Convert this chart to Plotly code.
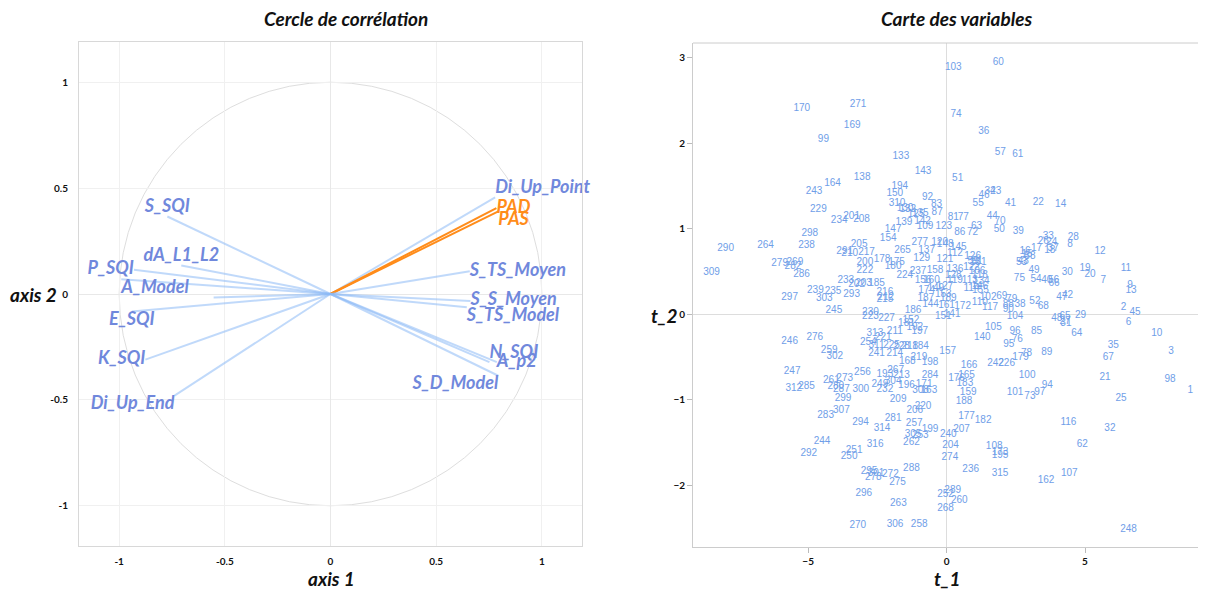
import plotly.graph_objects as go

W, H = 1206, 591

# ---------------- Left panel : correlation circle data ----------------
var_names = ["Di_Up_Point", "PAD", "PAS", "S_SQI", "dA_L1_L2", "P_SQI", "A_Model",
             "E_SQI", "K_SQI", "Di_Up_End", "S_TS_Moyen", "S_S_Moyen", "S_TS_Model",
             "N_SQI", "A_p2", "S_D_Model"]
axis1_load = [0.779, 0.785, 0.794, -0.772, -0.706, -0.930, -0.990,
              -0.940, -0.876, -0.738, 0.659, 0.662, 0.645,
              0.752, 0.787, 0.794]
axis2_load = [0.456, 0.406, 0.390, 0.366, 0.135, 0.115, 0.070,
              -0.083, -0.310, -0.480, 0.107, -0.033, -0.063,
              -0.322, -0.322, -0.386]
var_group = ["x", "y", "y", "x", "x", "x", "x", "x", "x", "x", "x", "x", "x", "x", "x", "x"]
extra_load_1 = [-0.553]
extra_load_2 = [-0.016]

# ---------------- Right panel : individuals map data ----------------
ids = [170, 271, 169, 99, 133, 138, 164, 243, 194, 150, 310, 229, 143, 103, 60, 74, 36, 57, 61, 51,
       34, 23, 46, 92, 83, 55, 41, 22, 14, 290, 309, 264, 298, 238, 279, 269, 282, 286, 297, 239,
       235, 303, 245, 246, 276, 259, 302, 247, 312, 285, 283, 261, 273, 307, 299, 300, 287, 280, 256, 294,
       314, 281, 257, 209, 206, 220, 232, 249, 304, 193, 267, 213, 196, 171, 308, 163, 284, 168, 219, 198,
       157, 254, 221, 313, 311, 241, 225, 214, 228, 218, 184, 211, 197, 140, 105, 95, 76, 96, 166, 242,
       226, 179, 176, 165, 183, 159, 188, 177, 182, 207, 240, 101, 100, 305, 199, 85, 64, 10, 35, 3,
       67, 89, 78, 21, 98, 1, 94, 97, 73, 25, 116, 32, 33, 28, 24, 26, 8, 17, 18, 37,
       12, 16, 15, 58, 43, 53, 19, 11, 30, 20, 7, 9, 13, 49, 54, 40, 56, 66, 75, 42,
       47, 52, 68, 29, 2, 45, 6, 48, 65, 31, 27, 87, 130, 132, 125, 135, 234, 201, 208, 139,
       142, 109, 123, 81, 77, 44, 70, 63, 50, 39, 86, 72, 147, 154, 205, 291, 210, 217, 178, 175,
       180, 200, 222, 265, 277, 137, 120, 148, 145, 112, 126, 129, 121, 224, 237, 158, 136, 131, 59, 122,
       128, 119, 113, 156, 160, 174, 149, 127, 153, 187, 144, 189, 161, 172, 114, 151, 141, 186, 152, 181,
       192, 227, 230, 223, 216, 215, 212, 185, 233, 202, 203, 293, 69, 79, 38, 90, 104, 88, 110, 117,
       102, 106, 118, 134, 146, 155, 91, 244, 292, 251, 250, 316, 262, 288, 295, 278, 301, 272, 275, 296,
       263, 270, 306, 258, 204, 274, 108, 173, 195, 62, 236, 315, 162, 107, 289, 252, 260, 268, 248, 253]
t1 = [-5.23, -3.20, -3.41, -4.45, -1.65, -3.05, -4.12, -4.79, -1.69, -1.87, -1.79, -4.63, -0.85, 0.24, 1.87, 0.34, 1.34, 1.94, 2.57, 0.40,
      1.57, 1.78, 1.35, -0.69, -0.36, 1.14, 2.31, 3.31, 4.12, -7.98, -8.49, -6.54, -4.94, -5.06, -6.03, -5.48, -5.55, -5.24, -5.67, -4.74,
      -4.10, -4.42, -4.07, -5.67, -4.76, -4.24, -4.04, -5.58, -5.52, -5.06, -4.37, -4.16, -3.68, -3.80, -3.74, -3.10, -3.80, -4.00, -3.04, -3.11,
      -2.33, -1.93, -1.17, -1.75, -1.15, -0.85, -2.23, -2.41, -1.93, -2.23, -1.84, -1.63, -1.45, -0.81, -0.94, -0.64, -0.60, -1.42, -1.00, -0.60,
      0.04, -2.83, -2.29, -2.59, -2.53, -2.53, -1.99, -1.87, -1.63, -1.33, -0.94, -1.87, -0.97, 1.29, 1.69, 2.25, 2.55, 2.47, 0.81, 1.77,
      2.17, 2.67, 0.36, 0.72, 0.66, 0.78, 0.63, 0.72, 1.32, 0.54, 0.06, 2.47, 2.91, -1.21, -0.60, 3.25, 4.70, 7.59, 6.02, 8.11,
      5.84, 3.62, 2.89, 5.72, 8.07, 8.80, 3.64, 3.37, 3.01, 6.30, 4.40, 5.90, 3.67, 4.58, 3.80, 3.49, 4.46, 3.25, 3.73, 3.85,
      5.54, 2.83, 2.90, 3.01, 2.77, 2.71, 5.00, 6.48, 4.36, 5.18, 5.66, 6.63, 6.66, 3.16, 3.23, 3.62, 3.86, 3.88, 2.63, 4.37,
      4.16, 3.19, 3.49, 4.84, 6.39, 6.81, 6.57, 3.98, 4.28, 4.31, 4.28, -0.34, -1.50, -1.40, -1.10, -0.95, -3.88, -3.43, -3.07, -1.54,
      -0.87, -0.78, -0.10, 0.24, 0.60, 1.65, 1.93, 1.08, 1.90, 2.59, 0.48, 0.94, -1.93, -2.11, -3.16, -3.68, -3.50, -2.89, -2.33, -1.81,
      -1.93, -2.95, -2.95, -1.59, -0.97, -0.72, -0.25, -0.05, 0.42, 0.30, 0.94, -0.90, -0.06, -1.51, -1.03, -0.42, 0.30, 1.14, 0.96, 0.90,
      0.24, 0.30, 0.84, -0.85, -0.55, -0.72, -0.39, -0.06, -0.12, -0.75, -0.58, 0.06, 0.00, 0.58, 0.90, -0.12, 0.20, -1.21, -1.29, -1.45,
      -1.15, -2.17, -2.75, -2.75, -2.23, -2.23, -2.20, -2.53, -3.64, -3.25, -3.00, -3.43, 1.99, 2.35, 2.65, 2.23, 2.47, 2.23, 1.20, 1.57,
      1.50, 1.10, 1.20, 1.25, 1.20, 1.22, 1.10, -4.50, -4.98, -3.34, -3.52, -2.58, -1.27, -1.27, -2.80, -2.65, -2.55, -2.03, -1.77, -2.99,
      -1.74, -3.21, -1.86, -0.99, 0.14, 0.12, 1.72, 1.93, 1.93, 4.90, 0.87, 1.93, 3.59, 4.43, 0.22, -0.04, 0.46, -0.04, 6.57, -0.95]
t2 = [2.40, 2.45, 2.21, 2.04, 1.84, 1.60, 1.53, 1.43, 1.49, 1.41, 1.29, 1.23, 1.67, 2.88, 2.94, 2.33, 2.13, 1.89, 1.87, 1.59,
      1.44, 1.44, 1.39, 1.36, 1.28, 1.30, 1.29, 1.31, 1.28, 0.77, 0.49, 0.80, 0.94, 0.80, 0.59, 0.60, 0.56, 0.47, 0.19, 0.28,
      0.27, 0.18, 0.04, -0.32, -0.27, -0.42, -0.49, -0.67, -0.87, -0.85, -1.18, -0.77, -0.75, -1.12, -0.98, -0.88, -0.88, -0.85, -0.68, -1.27,
      -1.34, -1.22, -1.28, -1.00, -1.13, -1.08, -0.88, -0.82, -0.79, -0.70, -0.66, -0.72, -0.83, -0.82, -0.89, -0.89, -0.71, -0.55, -0.51, -0.56,
      -0.44, -0.33, -0.27, -0.23, -0.36, -0.46, -0.36, -0.46, -0.38, -0.38, -0.38, -0.20, -0.20, -0.27, -0.16, -0.35, -0.30, -0.20, -0.60, -0.58,
      -0.58, -0.51, -0.75, -0.72, -0.81, -0.91, -1.02, -1.20, -1.24, -1.35, -1.41, -0.92, -0.71, -1.41, -1.35, -0.20, -0.23, -0.23, -0.36, -0.43,
      -0.50, -0.45, -0.46, -0.74, -0.76, -0.89, -0.83, -0.91, -0.96, -0.98, -1.27, -1.34, 0.91, 0.90, 0.84, 0.85, 0.82, 0.77, 0.74, 0.77,
      0.73, 0.73, 0.70, 0.67, 0.62, 0.60, 0.53, 0.53, 0.49, 0.46, 0.39, 0.34, 0.28, 0.51, 0.41, 0.39, 0.39, 0.36, 0.42, 0.22,
      0.19, 0.15, 0.09, -0.01, 0.08, 0.02, -0.10, -0.05, -0.03, -0.11, -0.08, 1.19, 1.24, 1.22, 1.16, 1.18, 1.10, 1.14, 1.11, 1.07,
      1.08, 1.02, 1.02, 1.13, 1.13, 1.14, 1.08, 1.02, 0.99, 0.97, 0.96, 0.95, 0.99, 0.88, 0.82, 0.73, 0.71, 0.72, 0.64, 0.60,
      0.56, 0.60, 0.51, 0.75, 0.84, 0.75, 0.84, 0.82, 0.78, 0.71, 0.67, 0.65, 0.64, 0.45, 0.50, 0.51, 0.52, 0.60, 0.62, 0.55,
      0.45, 0.39, 0.39, 0.40, 0.40, 0.28, 0.30, 0.32, 0.23, 0.18, 0.11, 0.18, 0.10, 0.09, 0.30, -0.03, 0.00, 0.04, -0.07, -0.11,
      -0.15, -0.05, 0.02, -0.03, 0.26, 0.17, 0.20, 0.36, 0.40, 0.35, 0.36, 0.23, 0.21, 0.17, 0.11, 0.05, -0.03, 0.11, 0.14, 0.08,
      0.19, 0.50, 0.45, 0.38, 0.33, 0.28, 0.62, -1.49, -1.63, -1.59, -1.66, -1.52, -1.50, -1.80, -1.84, -1.91, -1.86, -1.87, -1.97, -2.09,
      -2.21, -2.47, -2.46, -2.46, -1.53, -1.67, -1.55, -1.61, -1.65, -1.52, -1.81, -1.86, -1.94, -1.86, -2.06, -2.11, -2.18, -2.27, -2.51, -1.42]

left_ticks = [-1, -0.5, 0, 0.5, 1]
left_ticktext = ["-1", "-0.5", "0", "0.5", "1"]
right_xticks = [-5, 0, 5]
right_yticks = [-2, -1, 0, 1, 2, 3]

# ---------------- styles ----------------
COND = "Lato, Roboto, sans-serif"
BLUE_LINE = "rgba(140,185,245,0.55)"
BLUE_TXT = "#7088dc"
ORANGE = "#ff8c1a"
PT_TXT = "#6f9ee8"

label_pos = ["top right", "middle right", "bottom right", "top center", "top center",
             "middle left", "bottom right", "bottom center", "middle left", "bottom left",
             "middle right", "middle right", "bottom right", "top right", "middle right",
             "bottom left"]

fig = go.Figure()

for a1, a2 in zip(extra_load_1, extra_load_2):
    fig.add_trace(go.Scatter(x=[0, a1], y=[0, a2], mode="lines",
                             line=dict(color=BLUE_LINE, width=2),
                             hoverinfo="skip", showlegend=False, xaxis="x", yaxis="y"))

for name, a1, a2, g in zip(var_names, axis1_load, axis2_load, var_group):
    fig.add_trace(go.Scatter(x=[0, a1], y=[0, a2], mode="lines",
                             line=dict(color=ORANGE if g == "y" else BLUE_LINE, width=2),
                             name=name, hoverinfo="skip", showlegend=False,
                             xaxis="x", yaxis="y"))

fig.add_trace(go.Scatter(
    x=axis1_load, y=axis2_load, mode="text", text=var_names,
    textposition=label_pos, cliponaxis=False,
    textfont=dict(family=COND, size=18, weight="bold", style="italic",
                  color=[ORANGE if g == "y" else BLUE_TXT for g in var_group]),
    hoverinfo="skip", showlegend=False, xaxis="x", yaxis="y"))

fig.add_trace(go.Scatter(
    x=t1, y=t2, mode="text", text=[str(i) for i in ids],
    textfont=dict(family="Liberation Sans, Arial, sans-serif", size=10, color=PT_TXT),
    hoverinfo="skip", showlegend=False, xaxis="x2", yaxis="y2"))

fig.add_shape(type="circle", xref="x", yref="y", x0=-1, y0=-1, x1=1, y1=1,
              line=dict(color="#dedede", width=1), layer="below")

# page body has an 8px margin: positions below are screen pixels
OFF = 8


def px(x):
    return (x - OFF) / W


def py(y):
    return 1 - (y - OFF) / H


L_dom_x = [px(79), px(582)]
L_dom_y = [py(546), py(42)]
R_dom_x = [px(693), px(1206)]
R_dom_y = [py(547), py(43)]

tickfont = dict(family=COND, size=10, color="#111111", weight="bold")

fig.update_layout(
    width=W, height=H, margin=dict(l=0, r=0, t=0, b=0),
    paper_bgcolor="white", plot_bgcolor="white",
    showlegend=False,
    xaxis=dict(domain=L_dom_x, range=[-1.19, 1.19], tickvals=left_ticks,
               ticktext=left_ticktext,
               showgrid=True, gridcolor="#f0f0f0", gridwidth=1,
               zeroline=True, zerolinecolor="#e8e8e8", zerolinewidth=1,
               showline=True, linecolor="#d8d8d8", linewidth=1, mirror=True,
               ticks="", tickfont=tickfont, ticklabelstandoff=6, anchor="y"),
    yaxis=dict(domain=L_dom_y, range=[-1.19, 1.19], tickvals=left_ticks,
               ticktext=left_ticktext,
               showgrid=True, gridcolor="#f0f0f0", gridwidth=1,
               zeroline=True, zerolinecolor="#e8e8e8", zerolinewidth=1,
               showline=True, linecolor="#d8d8d8", linewidth=1, mirror=True,
               ticks="", tickfont=tickfont, ticklabelstandoff=8, anchor="x"),
    xaxis2=dict(domain=R_dom_x, range=[-9.16, 9.37], tickvals=right_xticks,
                showgrid=False, zeroline=True, zerolinecolor="#dddddd", zerolinewidth=1,
                showline=True, linecolor="#cccccc", linewidth=1,
                ticks="outside", ticklen=5, tickcolor="#bbbbbb",
                tickfont=tickfont, anchor="y2"),
    yaxis2=dict(domain=R_dom_y, range=[-2.72, 3.17], tickvals=right_yticks,
                showgrid=False, zeroline=True, zerolinecolor="#dddddd", zerolinewidth=1,
                showline=True, linecolor="#cccccc", linewidth=1,
                ticks="outside", ticklen=5, tickcolor="#bbbbbb",
                tickfont=tickfont, anchor="x2"),
)

fig.add_shape(type="line", xref="paper", yref="paper",
              x0=R_dom_x[0], x1=R_dom_x[1], y0=R_dom_y[1], y1=R_dom_y[1],
              line=dict(color="#cccccc", width=1))

title_font = dict(family=COND, size=19, color="#111111", weight="bold", style="italic")
axis_font = dict(family=COND, size=19, color="#111111", weight="bold", style="italic")

annots = [
    dict(text="Cercle de corrélation", x=px(346), y=py(18), font=title_font),
    dict(text="Carte des variables", x=px(956), y=py(19), font=title_font),
    dict(text="axis 1", x=px(331), y=py(578), font=axis_font),
    dict(text="axis 2", x=px(33), y=py(294), font=axis_font),
    dict(text="t_1", x=px(947), y=py(578), font=axis_font),
    dict(text="t_2", x=px(664), y=py(315), font=axis_font),
]
for a in annots:
    fig.add_annotation(xref="paper", yref="paper", showarrow=False,
                       xanchor="center", yanchor="middle", **a)

fig.write_html("out.html")
